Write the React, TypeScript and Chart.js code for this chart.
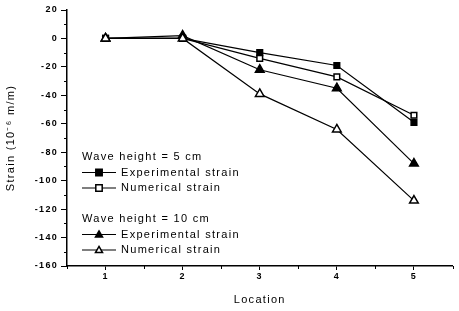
import React, { useEffect, useRef } from "react";
import { Chart, registerables } from "chart.js";

Chart.register(...registerables);

const locations = [1, 2, 3, 4, 5];
const exp5 = [0, 0, -10, -19, -59];
const num5 = [0, 0, -14, -27, -54];
const exp10 = [0, 2, -22, -35, -88];
const num10 = [0, 0, -39, -64, -114];

const yTitle = "Strain (10\u207B\u2076 m/m)";
const xTitle = "Location";
const legendGroups = [
  { header: "Wave height = 5 cm", items: [
    { label: "Experimental strain", style: "rect", fill: "#000" },
    { label: "Numerical strain", style: "rect", fill: "#fff" },
  ] },
  { header: "Wave height = 10 cm", items: [
    { label: "Experimental strain", style: "triangle", fill: "#000" },
    { label: "Numerical strain", style: "triangle", fill: "#fff" },
  ] },
];

const FONT = "Arial, 'Liberation Sans', sans-serif";
const SPACING = "1.3px";

function drawMarker(ctx: CanvasRenderingContext2D, style: string, fill: string, x: number, y: number, r: number) {
  ctx.save();
  ctx.fillStyle = fill;
  ctx.strokeStyle = "#000";
  ctx.lineWidth = 1.5;
  ctx.beginPath();
  if (style === "rect") {
    ctx.rect(x - r, y - r, 2 * r, 2 * r);
  } else {
    ctx.moveTo(x, y - r * 1.1);
    ctx.lineTo(x + r * 1.1, y + r * 0.8);
    ctx.lineTo(x - r * 1.1, y + r * 0.8);
    ctx.closePath();
  }
  ctx.fill();
  ctx.stroke();
  ctx.restore();
}

const spacingPlugin = {
  id: "spacing",
  beforeUpdate(chart: any) { (chart.ctx as any).letterSpacing = SPACING; },
  beforeDraw(chart: any) { (chart.ctx as any).letterSpacing = SPACING; },
};

const overlayPlugin = {
  id: "overlay",
  afterDraw(chart: any) {
    const ctx: CanvasRenderingContext2D = chart.ctx;
    const xs = chart.scales.x;
    const ys = chart.scales.y;
    // minor ticks
    ctx.save();
    ctx.strokeStyle = "#000";
    ctx.lineWidth = 1;
    for (let v = -150; v <= 10; v += 20) {
      const py = Math.round(ys.getPixelForValue(v)) + 0.5;
      ctx.beginPath();
      ctx.moveTo(xs.left - 3, py);
      ctx.lineTo(xs.left, py);
      ctx.stroke();
    }
    for (let v = 0.5; v <= 5.5; v += 1) {
      const px = Math.round(xs.getPixelForValue(v)) + 0.5;
      ctx.beginPath();
      ctx.moveTo(px, ys.bottom);
      ctx.lineTo(px, ys.bottom + 3);
      ctx.stroke();
    }
    ctx.restore();

    // legend
    ctx.save();
    (ctx as any).letterSpacing = SPACING;
    ctx.font = `11px ${FONT}`;
    ctx.fillStyle = "#000";
    ctx.textBaseline = "middle";
    ctx.textAlign = "left";
    const x0 = 82;
    let y = 157;
    legendGroups.forEach((g, gi) => {
      if (gi > 0) y += 15.5;
      ctx.fillText(g.header, x0, y);
      y += 15.5;
      g.items.forEach((it) => {
        ctx.strokeStyle = "#000";
        ctx.lineWidth = 1.2;
        ctx.beginPath();
        ctx.moveTo(x0, y);
        ctx.lineTo(x0 + 34, y);
        ctx.stroke();
        drawMarker(ctx, it.style, it.fill, x0 + 17, y, 3.2);
        ctx.fillStyle = "#000";
        ctx.fillText(it.label, x0 + 39, y);
        y += 15.5;
      });
    });
    ctx.restore();
  },
};

export default function App() {
  const ref = useRef<HTMLCanvasElement | null>(null);
  useEffect(() => {
    if (!ref.current) return;
    const mk = (data: number[], style: string, fill: string, label: string) => ({
      label,
      data: locations.map((x, i) => ({ x, y: data[i] })),
      borderColor: "#000",
      borderWidth: 1.2,
      pointStyle: style,
      pointRadius: style === "rect" ? 4 : 5,
      pointBackgroundColor: fill,
      pointBorderColor: "#000",
      pointBorderWidth: 1.5,
      showLine: true,
      tension: 0,
    });
    const chart = new Chart(ref.current, {
      type: "scatter",
      data: {
        datasets: [
          mk(num10, "triangle", "#fff", "Numerical strain (10 cm)"),
          mk(exp10, "triangle", "#000", "Experimental strain (10 cm)"),
          mk(num5, "rect", "#fff", "Numerical strain (5 cm)"),
          mk(exp5, "rect", "#000", "Experimental strain (5 cm)"),
        ],
      },
      options: {
        animation: false,
        responsive: false,
        layout: { padding: { top: 10, right: 2, left: 0, bottom: 0 } },
        plugins: { legend: { display: false }, tooltip: { enabled: false } },
        scales: {
          x: {
            type: "linear",
            min: 0.5,
            max: 5.5,
            ticks: {
              stepSize: 1,
              autoSkip: false,
              maxRotation: 0,
              color: "#000",
              font: { family: FONT, size: 9, weight: "bold" },
              padding: 1,
              callback: (v: any) => (Number.isInteger(v) ? String(v) : ""),
            },
            afterBuildTicks: (s: any) => {
              s.ticks = locations.map((v) => ({ value: v }));
            },
            grid: { drawOnChartArea: false, drawTicks: true, tickLength: 4, color: "#000", lineWidth: 1 },
            border: { display: true, color: "#000", width: 1.5 },
            title: { display: true, text: xTitle, color: "#000", font: { family: FONT, size: 11 }, padding: { top: 10 } },
            afterFit: (s: any) => { s.height = 45; },
          },
          y: {
            min: -160,
            max: 20,
            ticks: {
              stepSize: 20,
              autoSkip: false,
              color: "#000",
              font: { family: FONT, size: 9, weight: "bold" },
              padding: 3,
            },
            grid: { drawOnChartArea: false, drawTicks: true, tickLength: 6, color: "#000", lineWidth: 1 },
            border: { display: true, color: "#000", width: 1.5 },
            title: { display: true, text: yTitle, color: "#000", font: { family: FONT, size: 11 }, padding: { bottom: 6 } },
            afterFit: (s: any) => { s.width = 67; },
          },
        },
      },
      plugins: [spacingPlugin, overlayPlugin],
    } as any);
    return () => chart.destroy();
  }, []);
  return (
    <div style={{ position: "fixed", left: 0, top: 0, width: 459, height: 311, background: "#fff" }}>
      <canvas ref={ref} width={459} height={311} />
    </div>
  );
}
